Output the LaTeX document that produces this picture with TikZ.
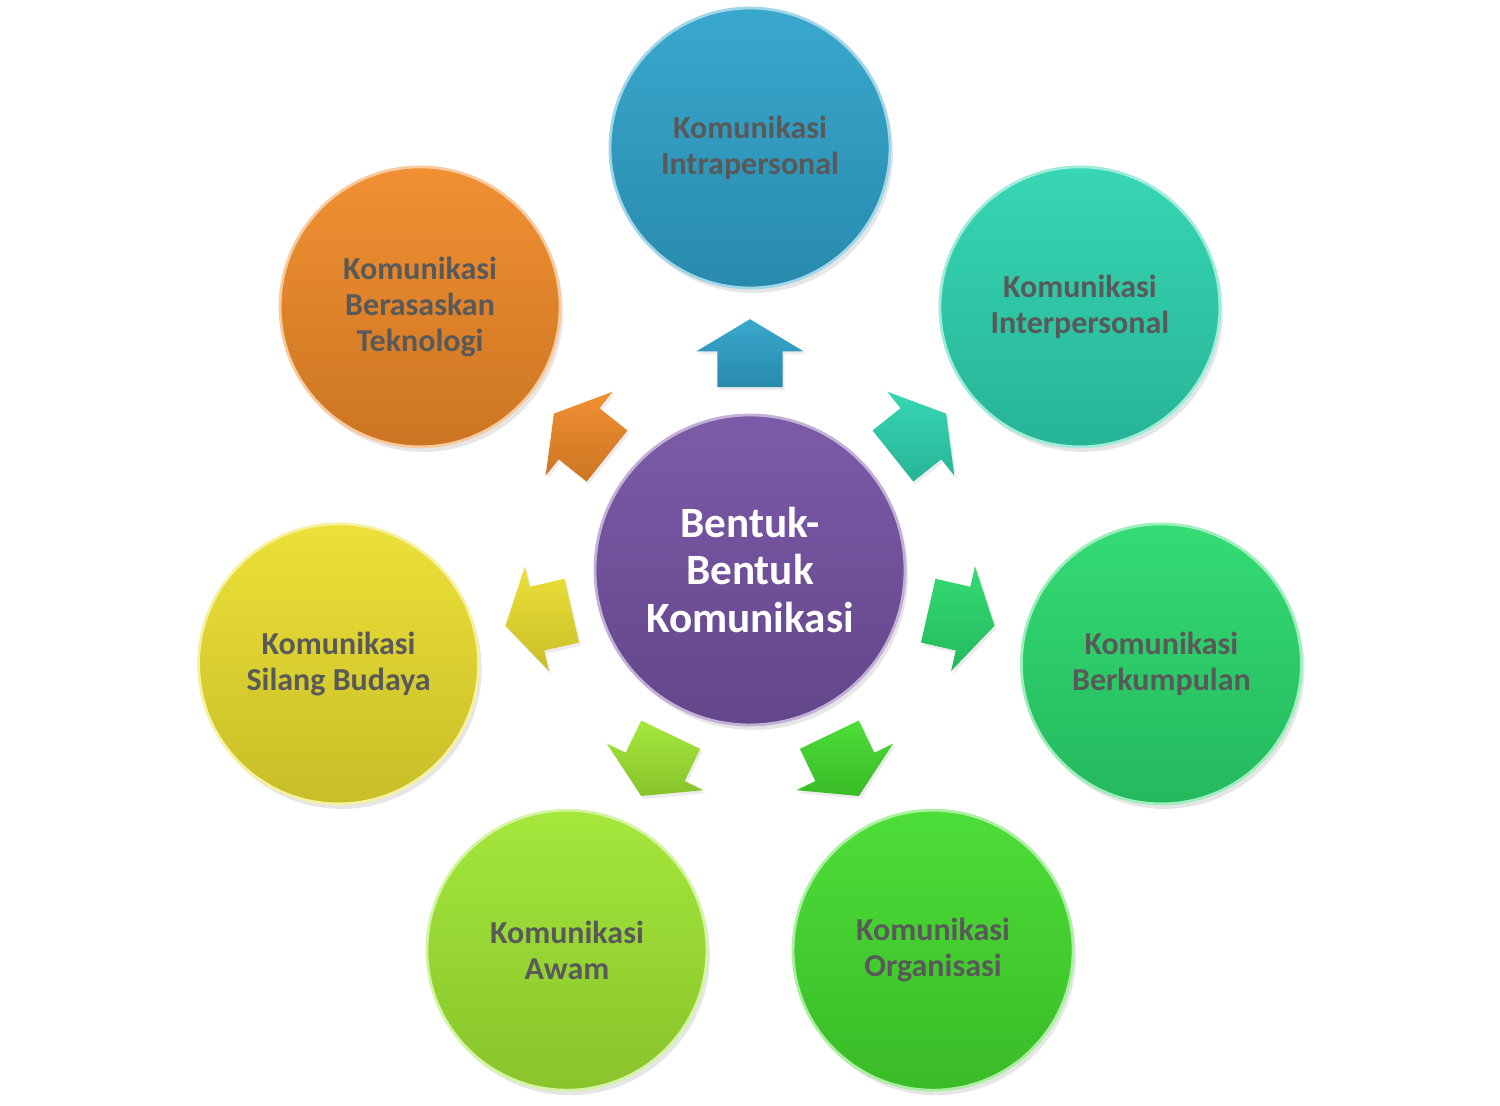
\documentclass[tikz,border=0pt]{standalone}
\usepackage{fontspec}
\setmainfont{Carlito}
\usepackage{tikz}
\usetikzlibrary{calc,shapes.arrows,shadows}

\definecolor{txtgray}{HTML}{595959}
\definecolor{cPurple}{HTML}{7552A3}
\definecolor{cBlue}{HTML}{2FA3CB}
\definecolor{cTeal}{HTML}{2DD4B0}
\definecolor{cGreen}{HTML}{2AD96D}
\definecolor{cLeaf}{HTML}{44DC2E}
\definecolor{cLime}{HTML}{A0E632}
\definecolor{cYellow}{HTML}{EBDF2E}
\definecolor{cOrange}{HTML}{F08A28}

\begin{document}
\begin{tikzpicture}[
    bubble/.style={circle, minimum size=2.8cm, inner sep=0pt, align=center,
      font=\bfseries\fontsize{9.1}{10.2}\selectfont, text=txtgray,
      top color=#1!95!white, bottom color=#1!85!black,
      draw=#1!45!white, line width=0.8pt,
      drop shadow={opacity=0.2, shadow xshift=0.03cm, shadow yshift=-0.05cm}},
    pointer/.style={single arrow, minimum height=0.68cm, minimum width=0pt,
      inner xsep=0pt, inner ysep=0.32cm, single arrow head extend=0.21cm,
      single arrow tip angle=118,
      top color=#1!95!white, bottom color=#1!85!black,
      drop shadow={opacity=0.15, shadow xshift=0.02cm, shadow yshift=-0.03cm}}
]
  \useasboundingbox (0,0) rectangle (15,11.06);

  % centre
  \node[bubble=cPurple, minimum size=3.1cm, text=white,
        font=\bfseries\fontsize{12.3}{13.6}\selectfont] (pusat) at (7.5,5.36)
        {Bentuk-\\Bentuk\\Komunikasi};

  % outer circles
  \node[bubble=cBlue]   (intra)  at ($(pusat)+(90:4.22)$)     {Komunikasi\\Intrapersonal};
  \node[bubble=cTeal]   (inter)  at ($(pusat)+(38.57:4.22)$)  {Komunikasi\\Interpersonal};
  \node[bubble=cGreen]  (group)  at ($(pusat)+(-12.86:4.22)$) {Komunikasi\\Berkumpulan};
  \node[bubble=cLeaf]   (org)    at ($(pusat)+(-64.29:4.22)$) {Komunikasi\\Organisasi};
  \node[bubble=cLime]   (awam)   at ($(pusat)+(-115.71:4.22)$) {Komunikasi\\Awam};
  \node[bubble=cYellow] (budaya) at ($(pusat)+(-167.14:4.22)$) {Komunikasi\\Silang Budaya};
  \node[bubble=cOrange] (tekno)  at ($(pusat)+(141.43:4.22)$) {Komunikasi\\Berasaskan\\Teknologi};

  % arrows
  \node[pointer=cBlue,   rotate=90]      (a1) at ($(pusat)+(90:2.07)$) {};
  \node[pointer=cTeal,   rotate=38.57]   (a2) at ($(pusat)+(38.57:2.07)$) {};
  \node[pointer=cGreen,  rotate=-12.86]  (a3) at ($(pusat)+(-12.86:2.07)$) {};
  \node[pointer=cLeaf,   rotate=-64.29]  (a4) at ($(pusat)+(-64.29:2.07)$) {};
  \node[pointer=cLime,   rotate=-115.71] (a5) at ($(pusat)+(-115.71:2.07)$) {};
  \node[pointer=cYellow, rotate=-167.14] (a6) at ($(pusat)+(-167.14:2.07)$) {};
  \node[pointer=cOrange, rotate=141.43]  (a7) at ($(pusat)+(141.43:2.07)$) {};
\end{tikzpicture}
\end{document}
